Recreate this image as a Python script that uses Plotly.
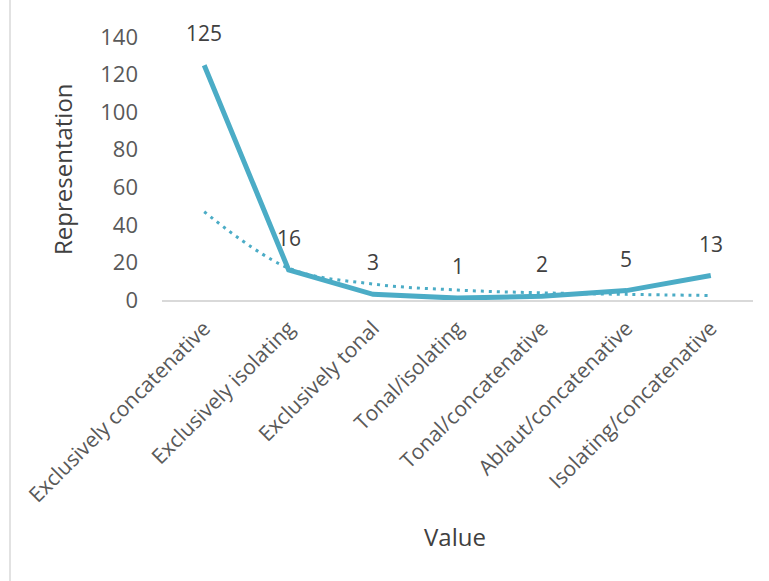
import plotly.graph_objects as go

categories = ["Exclusively concatenative", "Exclusively isolating", "Exclusively tonal",
              "Tonal/isolating", "Tonal/concatenative", "Ablaut/concatenative",
              "Isolating/concatenative"]
representation = [125, 16, 3, 1, 2, 5, 13]
trend = [47, 17, 8.5, 5.3, 3.8, 3.0, 2.4]
y_ticks = [0, 20, 40, 60, 80, 100, 120, 140]

COLOR = "#4BACC6"
FONT = "Open Sans"
W, H = 769, 581
L, R, T, B = 162, 16, 37, 281

fig = go.Figure()
fig.add_trace(go.Scatter(x=categories, y=trend, mode="lines",
                         line=dict(color=COLOR, width=3, dash="3px,5px", shape="spline", smoothing=1.0),
                         hoverinfo="skip", showlegend=False))
fig.add_trace(go.Scatter(x=categories, y=representation, mode="lines",
                         line=dict(color=COLOR, width=5), showlegend=False))

for c, v in zip(categories, representation):
    fig.add_annotation(x=c, y=v, text=str(v), showarrow=False, yshift=32,
                       font=dict(family=FONT, size=21, color="#404040"))

pw = W - L - R
ph = H - T - B
fig.add_annotation(xref="paper", yref="paper", x=(455 - L) / pw, y=-(536 - T - ph) / ph,
                   xanchor="center", yanchor="middle",
                   text="Value", showarrow=False, font=dict(family=FONT, size=24, color="#404040"))
fig.add_annotation(xref="paper", yref="paper", x=(62 - L) / pw, y=1 - (169 - T) / ph,
                   xanchor="center", yanchor="middle",
                   text="Representation", textangle=-90, showarrow=False,
                   font=dict(family=FONT, size=24, color="#404040"))

fig.add_shape(type="line", xref="paper", yref="paper",
              x0=(10 - L) / pw, x1=(10 - L) / pw, y0=-2, y1=2,
              line=dict(color="#D9D9D9", width=1.5))

fig.update_layout(
    width=W, height=H, margin=dict(l=L, r=R, t=T, b=B),
    paper_bgcolor="white", plot_bgcolor="white",
    font=dict(family=FONT, color="#595959"),
    xaxis=dict(type="category", range=[-0.5, 6.5], showgrid=False, showline=True,
               linecolor="#D9D9D9", linewidth=1.5, tickangle=-45, ticks="",
               ticklabelstandoff=6,
               tickfont=dict(size=21, color="#595959"), zeroline=False),
    yaxis=dict(range=[0, 140], tickvals=y_ticks, showgrid=False, showline=False, zeroline=False,
               ticks="", ticklabelstandoff=23, tickfont=dict(size=22, color="#595959")),
)
fig.write_html("out.html")
